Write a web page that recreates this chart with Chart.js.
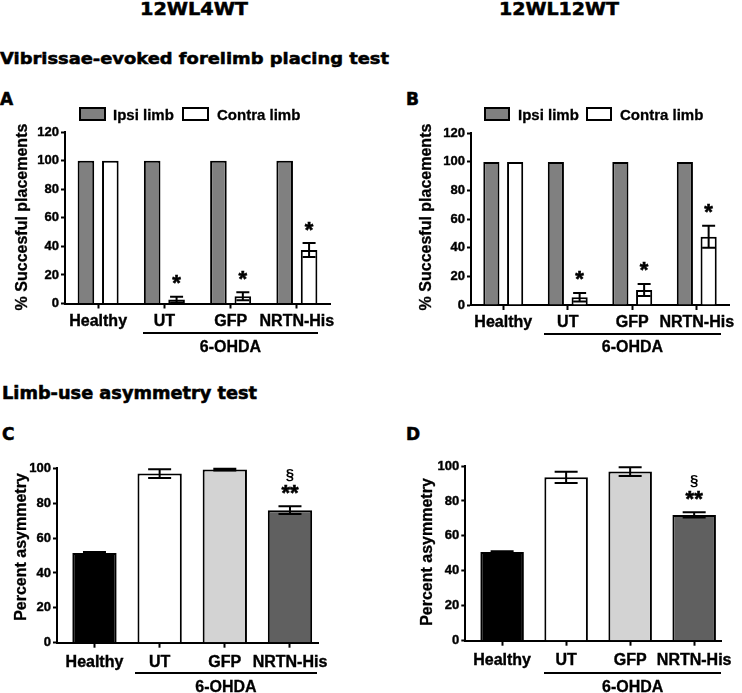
<!DOCTYPE html>
<html>
<head>
<meta charset="utf-8">
<script src="https://cdn.jsdelivr.net/npm/chart.js@4.4.0/dist/chart.umd.min.js"></script>
<style>
body{margin:0;background:#fff;width:742px;height:693px;position:relative;overflow:hidden;}
canvas{position:absolute;}
.t{position:absolute;white-space:nowrap;font-weight:bold;color:#000;-webkit-text-stroke:0.3px #000;}
.h{-webkit-text-stroke:0.55px #000;}
.box{position:absolute;border:2px solid #000;box-sizing:border-box;}
.line{position:absolute;height:2px;background:#000;}
</style>
</head>
<body>
<canvas id="cA"></canvas>
<canvas id="cB"></canvas>
<canvas id="cC"></canvas>
<canvas id="cD"></canvas>
<script>
// data
const groups = ['Healthy', 'UT', 'GFP', 'NRTN-His'];

const ipsiA = [100, 100, 100, 100];
const contraA = [100, 2.8, 5, 37.5];
const contraErrA = [0, 2, 2.8, 4.9];
const ipsiB = [100, 100, 100, 100];
const contraB = [100, 5.4, 10.5, 47.7];
const contraErrB = [0, 3, 4.2, 7.7];
const contraStars = ['', '*', '*', '*'];

const asymC = [51.5, 97, 99.3, 76];
const asymErrC = [0.5, 2.5, 0.5, 2.2];
const asymD = [50.8, 93.5, 96.8, 72];
const asymErrD = [0.4, 3.2, 2.5, 1.5];
const asymStars = ['', '', '', '**'];
const asymSect = ['', '', '', '§'];

const yTicksAB = [0, 20, 40, 60, 80, 100, 120];
const yTicksCD = [0, 20, 40, 60, 80, 100];

const F = '"Liberation Sans", Arial, sans-serif';
const DJ = '"DejaVu Sans", sans-serif';

// error bars + significance marks
const errorBars = {
  id: 'errorBars',
  afterDatasetsDraw(chart) {
    const ctx = chart.ctx, ys = chart.scales.y;
    chart.data.datasets.forEach((ds, di) => {
      if (!ds.err) return;
      const meta = chart.getDatasetMeta(di);
      meta.data.forEach((bar, i) => {
        const v = ds.yv[i], e = ds.err[i], x = bar.x, cw = ds.capW;
        const top = ys.getPixelForValue(v + e);
        ctx.save();
        ctx.strokeStyle = '#000';
        ctx.lineWidth = 2;
        if (e > 0) {
          const bot = ys.getPixelForValue(v - e);
          ctx.beginPath();
          ctx.moveTo(x, top); ctx.lineTo(x, bot);
          ctx.moveTo(x - cw / 2, top); ctx.lineTo(x + cw / 2, top);
          ctx.moveTo(x - cw / 2, bot); ctx.lineTo(x + cw / 2, bot);
          ctx.stroke();
        }
        ctx.fillStyle = '#000';
        ctx.lineWidth = 0.6;
        ctx.textAlign = 'center';
        ctx.textBaseline = 'alphabetic';
        if (ds.stars && ds.stars[i]) {
          ctx.font = 'bold 22px ' + F;
          const by = top - ds.starOff + 10.5;
          ctx.fillText(ds.stars[i], x, by);
          ctx.strokeText(ds.stars[i], x, by);
        }
        if (ds.sect && ds.sect[i]) {
          ctx.font = 'bold 15px ' + F;
          ctx.fillText(ds.sect[i], x, top - 31 + 4);
        }
        ctx.restore();
      });
    });
  }
};

function yScale(max, ticksArr, yW) {
  return {
    min: 0, max: max,
    afterBuildTicks: s => { s.ticks = ticksArr.map(v => ({ value: v })); },
    afterFit: s => { s.width = yW; },
    border: { color: '#000', width: 2 },
    grid: { drawOnChartArea: false, tickLength: 4, tickColor: '#000', tickWidth: 2 },
    ticks: { color: '#000', font: { family: F, size: 13, weight: 'bold' }, padding: 2,
      textStrokeColor: '#000', textStrokeWidth: 0.4 }
  };
}

function build(id, box, area, xScale, datasets, ymax, yticks) {
  const cv = document.getElementById(id);
  cv.width = box.w; cv.height = box.h;
  cv.style.left = box.x + 'px'; cv.style.top = box.y + 'px';
  const xH = 32;
  xScale.afterFit = s => { s.height = xH; };
  return new Chart(cv, {
    type: 'bar',
    data: { labels: groups, datasets: datasets },
    options: {
      responsive: false,
      animation: false,
      devicePixelRatio: 1,
      layout: { padding: { left: 0, right: box.w - area.r, top: area.t, bottom: box.h - area.b - xH } },
      plugins: { legend: { display: false }, tooltip: { enabled: false } },
      scales: { x: xScale, y: yScale(ymax, yticks, area.l) }
    },
    plugins: [errorBars]
  });
}

function xTicks(pad) {
  return { color: '#000', font: { family: F, size: 16, weight: 'bold' }, padding: pad, maxRotation: 0, autoSkip: false,
    textStrokeColor: '#000', textStrokeWidth: 0.4 };
}

function catX(pad) {
  return {
    type: 'category',
    offset: true,
    border: { color: '#000', width: 2 },
    grid: { offset: false, drawOnChartArea: false, tickLength: 5, tickColor: '#000', tickWidth: 2 },
    ticks: xTicks(pad)
  };
}

function linX(pad) {
  const t = xTicks(pad);
  t.callback = v => groups[v];
  return {
    type: 'linear',
    offset: false,
    min: -0.575, max: 3.43,
    afterBuildTicks: s => { s.ticks = groups.map((g, i) => ({ value: i })); },
    border: { color: '#000', width: 2 },
    grid: { offset: false, drawOnChartArea: false, tickLength: 5, tickColor: '#000', tickWidth: 2 },
    ticks: t
  };
}

function pairSets(ipsi, contra, err) {
  const common = { borderColor: '#000', borderWidth: 2, categoryPercentage: 0.737, barPercentage: 0.68 };
  return [
    Object.assign({ label: 'Ipsi limb', data: ipsi, backgroundColor: '#808080' }, common),
    Object.assign({ label: 'Contra limb', data: contra, backgroundColor: '#ffffff',
      yv: contra, err: err, capW: 13, stars: contraStars, starOff: 17 }, common)
  ];
}

function asymSet(vals, err) {
  return [{
    label: 'Percent asymmetry',
    data: vals.map((v, i) => ({ x: i, y: v })),
    backgroundColor: ['#000000', '#ffffff', '#d3d3d3', '#606060'],
    borderColor: '#000', borderWidth: 2,
    barPercentage: 0.68, categoryPercentage: 1,
    yv: vals, err: err, capW: 23, stars: asymStars, starOff: 17, sect: asymSect
  }];
}

build('cA', { x: 0, y: 120, w: 371, h: 240 }, { l: 65, r: 330, t: 12.3, b: 183.5 },
  catX(3), pairSets(ipsiA, contraA, contraErrA), 120, yTicksAB);
build('cB', { x: 371, y: 120, w: 371, h: 240 }, { l: 100, r: 358, t: 13.3, b: 185 },
  catX(3), pairSets(ipsiB, contraB, contraErrB), 120, yTicksAB);
build('cC', { x: 0, y: 455, w: 371, h: 238 }, { l: 57, r: 318, t: 13.3, b: 187.7 },
  linX(5), asymSet(asymC, asymErrC), 100, yTicksCD);
build('cD', { x: 371, y: 455, w: 371, h: 238 }, { l: 94.3, r: 350.7, t: 11, b: 185.7 },
  linX(5), asymSet(asymD, asymErrD), 100, yTicksCD);

// free text
const mctx = document.createElement('canvas').getContext('2d');
function txt(s, x, base, size, o) {
  o = o || {};
  const fam = o.fam || F;
  const d = document.createElement('div');
  d.className = 't' + (o.heavy ? ' h' : '');
  d.textContent = s;
  d.style.fontFamily = fam;
  d.style.fontSize = size + 'px';
  d.style.lineHeight = size + 'px';
  d.style.top = (base - 0.846 * size) + 'px';
  d.style.left = x + 'px';
  let sx = 1;
  if (o.w) { mctx.font = 'bold ' + size + 'px ' + fam; sx = o.w / mctx.measureText(s).width; }
  if (o.align === 'center') {
    d.style.transformOrigin = '50% 50%';
    d.style.transform = 'translateX(-50%) scaleX(' + sx + ')';
  } else {
    d.style.transformOrigin = '0 50%';
    d.style.transform = 'scaleX(' + sx + ')';
  }
  document.body.appendChild(d);
}
function rot(s, cx, cy, size) {
  const d = document.createElement('div');
  d.className = 't';
  d.textContent = s;
  d.style.fontFamily = F;
  d.style.fontSize = size + 'px';
  d.style.lineHeight = size + 'px';
  d.style.left = cx + 'px';
  d.style.top = cy + 'px';
  d.style.transform = 'translate(-50%,-50%) rotate(-90deg)';
  document.body.appendChild(d);
}
function box(x, y, w, h, c) {
  const d = document.createElement('div');
  d.className = 'box';
  Object.assign(d.style, { left: x + 'px', top: y + 'px', width: w + 'px', height: h + 'px', background: c });
  document.body.appendChild(d);
}
function line(x1, x2, y) {
  const d = document.createElement('div');
  d.className = 'line';
  Object.assign(d.style, { left: x1 + 'px', top: (y - 1) + 'px', width: (x2 - x1) + 'px' });
  document.body.appendChild(d);
}

txt('12WL4WT', 194, 15.5, 18, { align: 'center', w: 108, fam: DJ, heavy: true });
txt('12WL12WT', 559, 15.5, 18, { align: 'center', w: 120, fam: DJ, heavy: true });
txt('Vibrissae-evoked forelimb placing test', 0, 65, 16.5, { w: 389, fam: DJ, heavy: true });
txt('Limb-use asymmetry test', 2, 399.5, 17, { w: 255, fam: DJ, heavy: true });
txt('A', 0, 105, 17, { fam: DJ, heavy: true });
txt('B', 406, 105, 17, { fam: DJ, heavy: true });
txt('C', 2, 440, 17, { fam: DJ, heavy: true });
txt('D', 406, 440, 17, { fam: DJ, heavy: true });

box(78.7, 106.5, 27.3, 14, '#808080');
txt('Ipsi limb', 113, 119.3, 15);
box(182, 106.5, 27, 14, '#ffffff');
txt('Contra limb', 217, 119.3, 15);
box(484, 107, 26, 14, '#808080');
txt('Ipsi limb', 518, 119.3, 15);
box(586, 107, 26, 14, '#ffffff');
txt('Contra limb', 620, 119.3, 15);

rot('% Succesful placements', 21.7, 216.7, 16);
rot('% Succesful placements', 426, 217, 16);
rot('Percent asymmetry', 21, 547, 16);
rot('Percent asymmetry', 427, 551.7, 16);

line(143.3, 318.3, 333.3);
txt('6-OHDA', 230.5, 352.5, 16, { align: 'center' });
line(544, 721, 334);
txt('6-OHDA', 632.5, 353, 16, { align: 'center' });
line(135, 317, 673);
txt('6-OHDA', 226, 692.5, 16, { align: 'center' });
line(544, 721, 673);
txt('6-OHDA', 632.7, 692.5, 16, { align: 'center' });
</script>
</body>
</html>
